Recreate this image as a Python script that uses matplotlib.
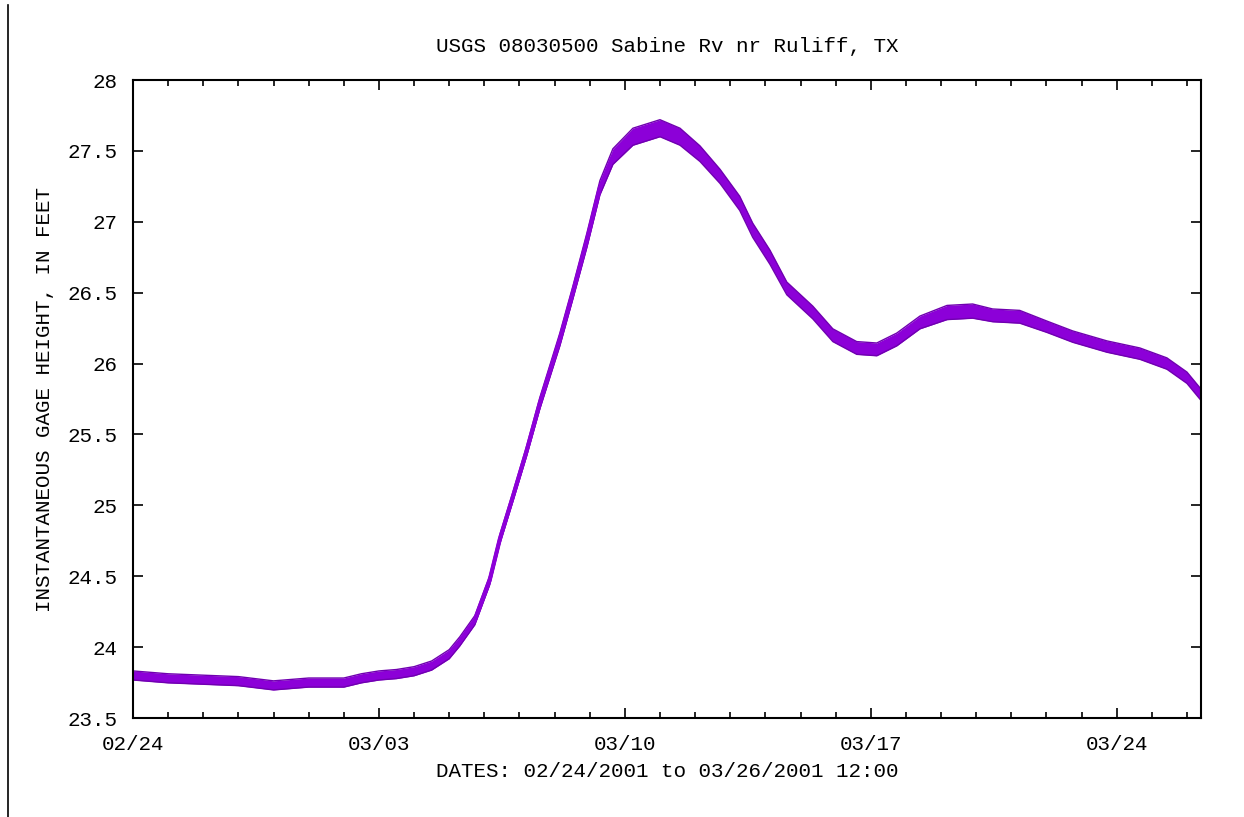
import datetime as dt
import matplotlib
matplotlib.use("Agg")
import matplotlib.pyplot as plt
import matplotlib.dates as mdates
from matplotlib.lines import Line2D

# gage readings (days after 02/24/2001 00:00, feet)
day_offset = [0.0, 0.5, 1.0, 2.0, 3.0, 4.0, 5.0, 6.0, 6.5, 7.0, 7.5, 8.0, 8.5,
              9.0, 9.3, 9.73, 10.15, 10.44, 10.8, 11.2, 11.58, 12.15, 12.52,
              12.92, 13.29, 13.66, 14.23, 15.0, 15.57, 16.14, 16.71, 17.27,
              17.64, 18.13, 18.61, 19.35, 19.92, 20.6, 21.17, 21.74, 22.4,
              23.17, 23.9, 24.47, 25.24, 26.01, 26.75, 27.72, 28.66, 29.43,
              30.0, 30.4]
gage_ft = [23.80, 23.79, 23.78, 23.77, 23.76, 23.73, 23.75, 23.75, 23.78,
           23.80, 23.81, 23.83, 23.87, 23.95, 24.04, 24.19, 24.47, 24.76,
           25.05, 25.38, 25.72, 26.17, 26.50, 26.87, 27.24, 27.46, 27.60,
           27.66, 27.60, 27.48, 27.32, 27.13, 26.94, 26.75, 26.53, 26.36,
           26.20, 26.11, 26.10, 26.17, 26.29, 26.36, 26.37, 26.34, 26.33,
           26.26, 26.19, 26.12, 26.07, 26.00, 25.90, 25.78]
# half thickness of the jittery band around the gage trace (feet)
band_ft = [0.032, 0.032, 0.032, 0.032, 0.032, 0.032, 0.032, 0.032, 0.032,
           0.032, 0.032, 0.032, 0.032, 0.032, 0.032, 0.032, 0.032, 0.032,
           0.032, 0.035, 0.04, 0.045, 0.045, 0.05, 0.05, 0.055, 0.06,
           0.06, 0.06, 0.055, 0.05, 0.05, 0.05, 0.05, 0.045, 0.045,
           0.045, 0.045, 0.045, 0.045, 0.045, 0.05, 0.05, 0.045, 0.045,
           0.04, 0.04, 0.04, 0.04, 0.04, 0.04, 0.04]

title = "USGS 08030500 Sabine Rv nr Ruliff, TX"
xlabel = "DATES: 02/24/2001 to 03/26/2001 12:00"
ylabel = "INSTANTANEOUS GAGE HEIGHT, IN FEET"
y_ticks = [23.5, 24, 24.5, 25, 25.5, 26, 26.5, 27, 27.5, 28]
y_ticklabels = ["23.5", "24", "24.5", "25", "25.5", "26", "26.5", "27", "27.5", "28"]

start = dt.datetime(2001, 2, 24)
end = start + dt.timedelta(days=30.4)
times = [start + dt.timedelta(days=d) for d in day_offset]
lower = [v - b for v, b in zip(gage_ft, band_ft)]
upper = [v + b for v, b in zip(gage_ft, band_ft)]

plt.rcParams['font.family'] = ['Liberation Mono', 'DejaVu Sans Mono']
fs = 15

fig = plt.figure(figsize=(12.44, 8.17), dpi=100)
ax = fig.add_axes([133 / 1244, 1 - 718 / 817, 1068 / 1244, 638 / 817])

ax.fill_between(times, lower, upper, color='#8c00d8', lw=0)
ax.plot(times, upper, color='#7000b0', lw=1.0)
ax.plot(times, lower, color='#7000b0', lw=1.0)
ax.plot(times, gage_ft, color='#8c00d8', lw=3.0, solid_joinstyle='round')

ax.set_xlim(start, end)
ax.set_ylim(23.5, 28)
ax.set_yticks(y_ticks)
ax.set_yticklabels(y_ticklabels)

ax.xaxis.set_major_locator(mdates.DayLocator(bymonthday=[3, 10, 17, 24]))
ax.xaxis.set_minor_locator(mdates.DayLocator())
ax.xaxis.set_major_formatter(mdates.DateFormatter('%m/%d'))

ax.tick_params(axis='both', which='major', direction='in', length=7,
               width=1.2, labelsize=fs, top=True, right=True)
ax.tick_params(axis='x', which='major', pad=12)
ax.tick_params(axis='y', which='major', pad=11)
ax.tick_params(axis='x', which='minor', direction='in', length=4,
               width=1.2, top=True)
for s in ax.spines.values():
    s.set_linewidth(1.5)

ax.set_title(title, fontsize=fs, pad=20)
ax.set_xlabel(xlabel, fontsize=fs, labelpad=6)
ax.set_ylabel(ylabel, fontsize=fs, labelpad=10)

# thin border line at the left edge of the image
fig.add_artist(Line2D([8 / 1244, 8 / 1244], [0, 1 - 5 / 817],
                      transform=fig.transFigure, color='black', lw=1.2))

fig.savefig("out.png", dpi=100)
